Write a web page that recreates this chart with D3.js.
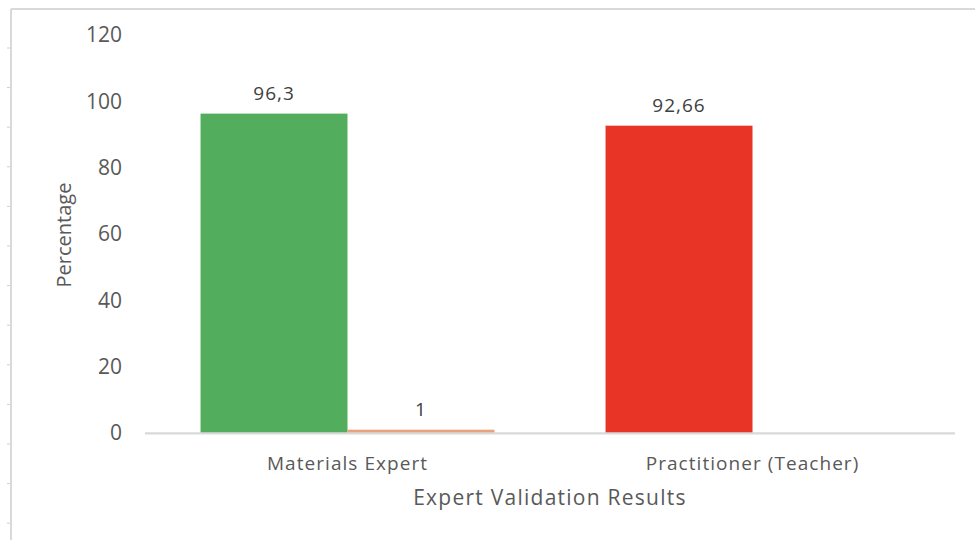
<!DOCTYPE html>
<html>
<head>
<meta charset="utf-8">
<script src="https://cdn.jsdelivr.net/npm/d3@7"></script>
<style>
  html, body { margin: 0; padding: 0; background: #fff; }
  svg { display: block; font-family: "Open Sans", sans-serif; }
</style>
</head>
<body>
<svg id="chart" width="975" height="540"></svg>
<script>
// Expert validation scores
const categories = ["Materials Expert", "Practitioner (Teacher)"];
const seriesNames = ["Score", "Other"];
const scoreValues = [96.3, 92.66];
const otherValues = [1, null];
const yTicks = [0, 20, 40, 60, 80, 100, 120];

const scoreColors = ["#52ad5c", "#e83426"];
const otherColor = "#e8a27c";
const textColor = "#595959";
const gridGray = "#d9d9d9";

const svg = d3.select("#chart");

const plot = { left: 145, right: 955, top: 35, bottom: 433 };

const x0 = d3.scaleBand().domain(categories).range([plot.left, plot.right]).padding(0);
const x1 = d3.scaleBand().domain(seriesNames).range([0, x0.bandwidth()]).paddingInner(0).paddingOuter(0.378);
const y = d3.scaleLinear().domain([0, 120]).range([plot.bottom, plot.top]);

// Outer frame (top and left edges)
svg.append("line").attr("x1", 11).attr("x2", 975).attr("y1", 9).attr("y2", 9)
  .attr("stroke", gridGray).attr("stroke-width", 2);
svg.append("line").attr("x1", 11).attr("x2", 11).attr("y1", 9).attr("y2", 540)
  .attr("stroke", gridGray).attr("stroke-width", 2);
// small marks along the left edge
const edgeMarks = d3.range(48, 540, 39.6);
svg.append("g").selectAll("line").data(edgeMarks).join("line")
  .attr("x1", 7).attr("x2", 10).attr("y1", d => d).attr("y2", d => d)
  .attr("stroke", "#cfcfcf").attr("stroke-width", 1);

// Y axis (labels only)
const yAxis = d3.axisLeft(y).tickValues(yTicks).tickSize(0).tickPadding(0);
const gy = svg.append("g").attr("transform", `translate(122,0)`).call(yAxis);
gy.select(".domain").remove();
gy.selectAll("text").attr("fill", textColor).attr("font-size", 21)
  .attr("font-family", "Open Sans, sans-serif");

// Bars
const groups = svg.append("g").selectAll("g").data(categories).join("g")
  .attr("transform", c => `translate(${x0(c)},0)`);

groups.append("rect")
  .attr("x", x1("Score"))
  .attr("width", x1.bandwidth())
  .attr("y", (c, i) => y(scoreValues[i]))
  .attr("height", (c, i) => y(0) - y(scoreValues[i]))
  .attr("fill", (c, i) => scoreColors[i]);

groups.filter((c, i) => otherValues[i] != null).append("rect")
  .attr("x", x1("Other"))
  .attr("width", x1.bandwidth())
  .attr("y", c => y(otherValues[categories.indexOf(c)]))
  .attr("height", c => y(0) - y(otherValues[categories.indexOf(c)]))
  .attr("fill", otherColor);

// X axis baseline, drawn over the bar bottoms
svg.append("line").attr("x1", plot.left).attr("x2", plot.right)
  .attr("y1", y(0) + 0.3).attr("y2", y(0) + 0.3)
  .attr("stroke", gridGray).attr("stroke-width", 2.2);

// Value labels
const fmt = v => String(v).replace(".", ",");
const labelStyle = sel => sel.attr("text-anchor", "middle")
  .attr("fill", "#404040").attr("font-size", 19).attr("letter-spacing", 1);

groups.append("text")
  .attr("x", x1("Score") + x1.bandwidth() / 2)
  .attr("y", (c, i) => y(scoreValues[i]) - 14)
  .call(labelStyle)
  .text((c, i) => fmt(scoreValues[i]));

groups.filter((c, i) => otherValues[i] != null).append("text")
  .attr("x", x1("Other") + x1.bandwidth() / 2)
  .attr("y", c => y(otherValues[categories.indexOf(c)]) - 14)
  .call(labelStyle)
  .text(c => fmt(otherValues[categories.indexOf(c)]));

// Category labels
const xAxis = d3.axisBottom(x0).tickSize(0).tickPadding(0);
const gx = svg.append("g").attr("transform", `translate(0,${plot.bottom + 37})`).call(xAxis);
gx.select(".domain").remove();
gx.selectAll("text").attr("fill", textColor).attr("font-size", 19)
  .attr("letter-spacing", 1.05)
  .attr("font-family", "Open Sans, sans-serif").attr("dy", 0);

// Axis titles
svg.append("text")
  .attr("x", (plot.left + plot.right) / 2).attr("y", 505)
  .attr("text-anchor", "middle").attr("fill", textColor).attr("font-size", 21)
  .attr("letter-spacing", 1.25)
  .text("Expert Validation Results");

svg.append("text")
  .attr("transform", `translate(71,235) rotate(-90)`)
  .attr("text-anchor", "middle").attr("fill", textColor).attr("font-size", 20)
  .text("Percentage");
</script>
</body>
</html>
